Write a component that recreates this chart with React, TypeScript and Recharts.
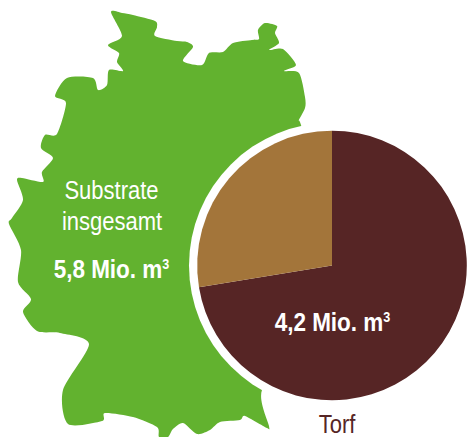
import { Pie, PieChart, Cell } from "recharts";

// Substrate volume split, million m3
const sliceNames = ["Torf", "Andere Ausgangsstoffe"];
const sliceValues = [4.2, 1.6];
const sliceColors = ["#562525", "#A3753A"];

const totalLabel = ["Substrate", "insgesamt"];
const totalValueLabel = "5,8 Mio. m";
const torfValueLabel = "4,2 Mio. m";
const torfLabel = "Torf";

// outline of Germany, only a backdrop
const mapOutline = [
  [111, 12], [122, 13], [133, 15], [155, 21], [157, 27], [155, 36], [177, 41], [187, 42], [193, 47],
  [183, 61], [202, 65], [209, 53], [223, 52], [233, 43], [252, 40], [259, 39], [258, 30], [265, 23],
  [277, 26], [275, 33], [279, 43], [269, 50], [283, 49], [296, 65], [284, 71], [299, 73], [305, 97],
  [305, 108], [298, 122], [301, 125], [320, 200], [300, 340], [262, 390], [269, 426], [267, 428],
  [245, 416], [240, 420], [220, 422], [210, 430], [197, 434], [183, 423], [173, 429], [168, 437],
  [159, 437], [157, 427], [133, 417], [105, 413], [102, 421], [68, 424], [63, 390], [89, 344],
  [60, 333], [37, 331], [23, 312], [31, 299], [18, 282], [21, 250], [9, 224], [12, 218], [23, 200],
  [17, 180], [22, 178], [43, 182], [42, 172], [53, 158], [41, 148], [45, 135], [57, 134], [66, 103],
  [55, 96], [67, 78], [93, 78], [98, 90], [107, 85], [109, 70], [123, 71], [117, 62], [119, 53],
  [108, 45], [122, 36],
];

function smoothPath(pts: number[][]) {
  const n = pts.length;
  let d = `M${pts[0][0]},${pts[0][1]}`;
  for (let i = 0; i < n; i++) {
    const p0 = pts[(i - 1 + n) % n];
    const p1 = pts[i];
    const p2 = pts[(i + 1) % n];
    const p3 = pts[(i + 2) % n];
    const t = 0.13;
    d += `C${p1[0] + (p2[0] - p0[0]) * t},${p1[1] + (p2[1] - p0[1]) * t} ${p2[0] - (p3[0] - p1[0]) * t},${p2[1] - (p3[1] - p1[1]) * t} ${p2[0]},${p2[1]}`;
  }
  return d + "Z";
}

const data = sliceNames.map((name, i) => ({ name, value: sliceValues[i] }));

// no condensed face installed, so squeeze Liberation Sans sideways
function Squeezed({ x, y, sx, bold, fill = "#fff", children }: any) {
  return (
    <text
      transform={`translate(${x},${y}) scale(${sx},1)`}
      fontSize={25}
      fontWeight={bold ? "bold" : "normal"}
      fill={fill}
      textAnchor="middle"
    >
      {children}
    </text>
  );
}

export default function App() {
  return (
    <div style={{ position: "absolute", left: 0, top: 0, width: 467, height: 437 }}>
      <svg width={467} height={437} style={{ position: "absolute", left: 0, top: 0 }}>
        <path d={smoothPath(mapOutline)} fill="#62B22F" />
        <circle cx={332} cy={265.5} r={143} fill="#fff" />
      </svg>
      <div style={{ position: "absolute", left: 0, top: 0 }}>
        <PieChart width={467} height={437} margin={{ top: 0, right: 0, bottom: 0, left: 0 }}>
          <Pie
            data={data}
            dataKey="value"
            nameKey="name"
            cx={332}
            cy={265.5}
            outerRadius={134.8}
            startAngle={90}
            endAngle={-270}
            stroke="none"
            isAnimationActive={false}
          >
            {data.map((d, i) => (
              <Cell key={d.name} fill={sliceColors[i]} />
            ))}
          </Pie>
        </PieChart>
      </div>
      <svg
        width={467}
        height={437}
        style={{ position: "absolute", left: 0, top: 0 }}
        fontFamily="'Liberation Sans', sans-serif"
      >
        <Squeezed x={111.5} y={199} sx={0.88}>{totalLabel[0]}</Squeezed>
        <Squeezed x={112} y={230} sx={0.88}>{totalLabel[1]}</Squeezed>
        <Squeezed x={111.5} y={278} sx={0.9} bold>
          {totalValueLabel}
          <tspan dy={-9} fontSize={14}>3</tspan>
        </Squeezed>
        <Squeezed x={332.5} y={331} sx={0.9} bold>
          {torfValueLabel}
          <tspan dy={-9} fontSize={14}>3</tspan>
        </Squeezed>
        <Squeezed x={337} y={433} sx={0.88} fill="#562525">{torfLabel}</Squeezed>
      </svg>
    </div>
  );
}
